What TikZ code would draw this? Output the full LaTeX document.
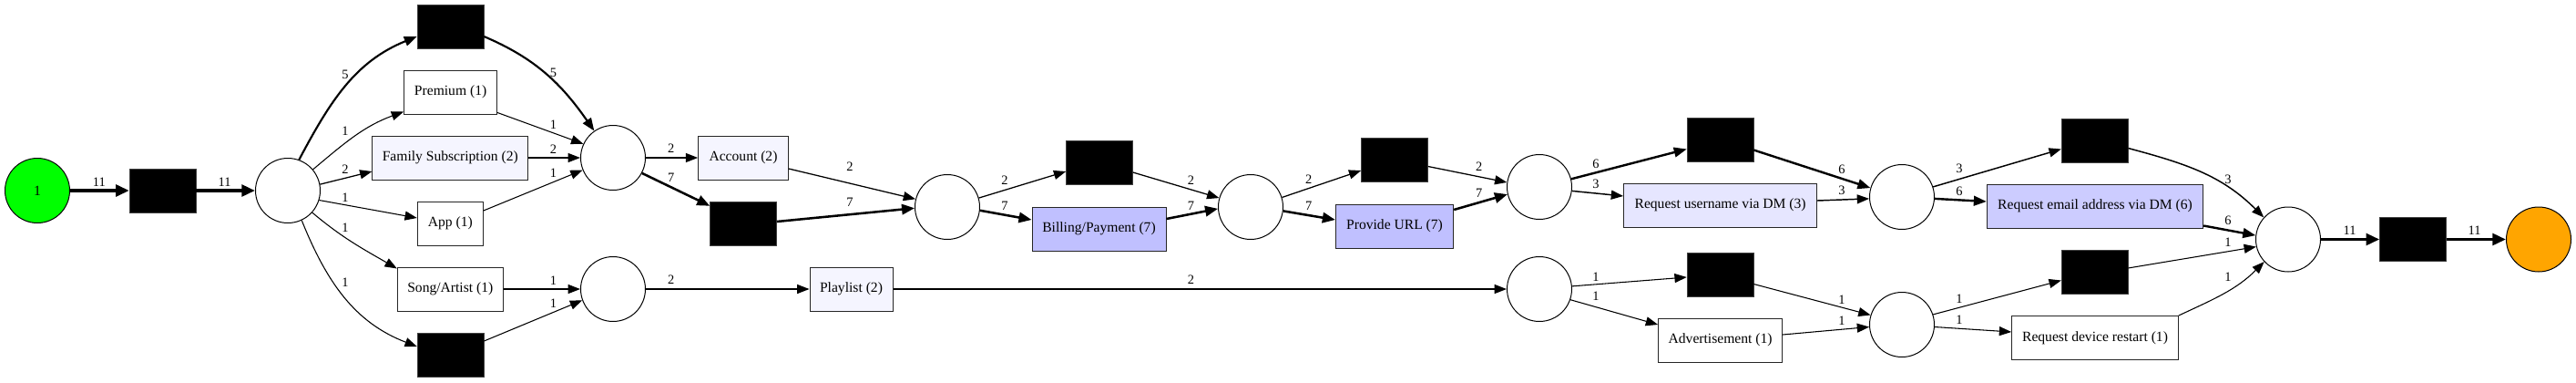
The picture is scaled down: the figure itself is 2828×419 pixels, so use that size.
\documentclass[tikz,border=0pt]{standalone}
\usepackage{fontspec}
\setmainfont{Liberation Serif}
\usetikzlibrary{arrows.meta,calc}
\definecolor{cgreen}{HTML}{00FF00}
\definecolor{corange}{HTML}{FFA500}
\definecolor{ctwo}{HTML}{F5F5FF}
\definecolor{cthree}{HTML}{E6E6FF}
\definecolor{csix}{HTML}{CCCCFF}
\definecolor{cseven}{HTML}{C0C0FF}
\begin{document}
\begin{tikzpicture}[x=0.75pt,y=-0.75pt,
  place/.style={circle,draw=black,line width=0.75pt,minimum size=53.25pt,inner sep=0pt,fill=white,font=\fontsize{11.7}{13}\selectfont},
  silent/.style={rectangle,fill=black,draw=black!75,line width=0.4pt,minimum width=54.75pt,minimum height=36pt,inner sep=0pt},
  act/.style={rectangle,draw=black!85,line width=0.75pt,minimum height=36pt,inner sep=0pt,fill=white,font=\fontsize{11.7}{13}\selectfont},
  lbl/.style={inner sep=0pt,font=\fontsize{10.8}{12}\selectfont},
  eone/.style={line width=0.8pt,-{Triangle[length=10pt,width=7.5pt]}},
  etwo/.style={line width=0.95pt,-{Triangle[length=10pt,width=7.5pt]}},
  ethree/.style={line width=1.1pt,-{Triangle[length=10pt,width=7.5pt]}},
  efive/.style={line width=1.6pt,-{Triangle[length=10.5pt,width=8pt]}},
  esix/.style={line width=1.8pt,-{Triangle[length=10.5pt,width=8pt]}},
  eseven/.style={line width=1.9pt,-{Triangle[length=10.5pt,width=8.5pt]}},
  eeleven/.style={line width=2.6pt,-{Triangle[length=11pt,width=9.5pt]}}
]
\useasboundingbox (0,0) rectangle (2828,419);

% nodes
\node[place,fill=cgreen] (start) at (41,209) {1};
\node[silent] (t0) at (178.6,209) {};
\node[place] (p1) at (316,209) {};
\node[silent] (tTop) at (494.6,29) {};
\node[act,minimum width=76.5pt] (premium) at (494.6,101) {Premium (1)};
\node[act,fill=ctwo,minimum width=128pt] (famsub) at (494.3,173) {Family Subscription (2)};
\node[act,minimum width=54pt] (app) at (494.3,245) {App (1)};
\node[act,minimum width=87pt] (song) at (494.3,317) {Song/Artist (1)};
\node[silent] (tBot) at (494.6,389) {};
\node[place] (p2) at (673,173) {};
\node[place] (p3) at (673,317) {};
\node[act,fill=ctwo,minimum width=74pt] (account) at (816,173) {Account (2)};
\node[silent] (tAcc) at (816,245) {};
\node[act,fill=ctwo,minimum width=68.25pt] (playlist) at (934.5,317) {Playlist (2)};
\node[place] (p4) at (1040,227) {};
\node[silent] (t4) at (1207,178.5) {};
\node[act,fill=cseven,minimum width=110.25pt] (billing) at (1206.5,251) {Billing/Payment (7)};
\node[place] (p5) at (1373,227) {};
\node[silent] (t5) at (1531,175.5) {};
\node[act,fill=cseven,minimum width=97pt] (url) at (1531,248) {Provide URL (7)};
\node[place] (p6) at (1690,205) {};
\node[silent] (t6) at (1888.5,153.5) {};
\node[act,fill=cthree,minimum width=159pt] (requser) at (1888.6,225) {Request username via DM (3)};
\node[place] (p7) at (2088,216) {};
\node[place] (p8) at (1690,317) {};
\node[silent] (t8) at (1888.5,301) {};
\node[act,minimum width=102pt] (adv) at (1888.6,373) {Advertisement (1)};
\node[place] (p9) at (2088,356) {};
\node[silent] (t7) at (2299.6,154.5) {};
\node[act,fill=csix,minimum width=178pt] (reqemail) at (2300,226) {Request email address via DM (6)};
\node[silent] (t9) at (2299.6,298.5) {};
\node[act,minimum width=137pt] (restart) at (2300,370.5) {Request device restart (1)};
\node[place] (p10) at (2512,262.5) {};
\node[silent] (tEnd) at (2649,262.5) {};
\node[place,fill=corange] (end) at (2787,262.5) {};

% edges
\draw[eeleven] (start.east) -- (t0.west);
\draw[eeleven] (t0.east) -- (p1.west);
\draw[efive] (p1.70) to[out=62,in=202] ($(tTop.west)+(0,11)$);
\draw[eone] (p1.40) to[out=40,in=200] ($(premium.south west)+(0,-3)$);
\draw[etwo] (p1.11) -- ($(famsub.west)+(0,15)$);
\draw[eone] (p1.-17) -- ($(app.west)+(0,-6)$);
\draw[eone] (p1.-42) to[out=-40,in=150] ($(song.north west)+(0,2)$);
\draw[eone] (p1.-65) to[out=-68,in=159] ($(tBot.west)+(0,-9)$);
\draw[efive] ($(tTop.east)+(0,11)$) to[out=-23,in=125] (p2.125);
\draw[eone] ($(premium.south east)+(0,-2)$) -- (p2.155);
\draw[etwo] (famsub.east) -- (p2.west);
\draw[eone] ($(app.east)+(0,-14)$) -- (p2.202);
\draw[eone] (song.east) -- (p3.west);
\draw[eone] ($(tBot.east)+(0,-15)$) -- (p3.200);
\draw[etwo] (p2.east) -- (account.west);
\draw[eseven] (p2.-28) -- ($(tAcc.north west)+(0,5)$);
\draw[etwo] (p3.east) -- (playlist.west);
\draw[etwo] ($(account.east)+(0,12)$) -- (p4.166);
\draw[eseven] ($(tAcc.east)+(0,-2)$) -- (p4.182);
\draw[etwo] (playlist.east) -- (p8.west);
\draw[etwo] (p4.16) -- ($(t4.west)+(0,9.5)$);
\draw[eseven] (p4.-6) -- ($(billing.west)+(0,-10)$);
\draw[etwo] ($(t4.east)+(0,10.5)$) -- (p5.164);
\draw[eseven] ($(billing.east)+(0,-11)$) -- (p5.183);
\draw[etwo] (p5.17) -- ($(t5.west)+(0,11.5)$);
\draw[eseven] (p5.-7) -- ($(url.west)+(0,-7)$);
\draw[etwo] ($(t5.east)+(0,7)$) -- (p6.172);
\draw[eseven] ($(url.east)+(0,-18)$) -- (p6.193);
\draw[esix] (p6.14) -- ($(t6.west)+(0,10)$);
\draw[ethree] (p6.-7) -- ($(requser.west)+(0,-10)$);
\draw[esix] ($(t6.east)+(0,11)$) -- (p7.164);
\draw[ethree] ($(requser.east)+(0,-5)$) -- (p7.183);
\draw[eone] (p8.5) -- ($(t8.west)+(0,3)$);
\draw[eone] (p8.-19) -- ($(adv.west)+(0,-17)$);
\draw[eone] ($(t8.east)+(0,10.5)$) -- (p9.163);
\draw[eone] ($(adv.east)+(0,-6)$) -- (p9.184);
\draw[ethree] (p7.18) -- ($(t7.west)+(0,9)$);
\draw[esix] (p7.-3) -- ($(reqemail.west)+(0,-5)$);
\draw[ethree] ($(t7.east)+(0,8)$) to[out=-15,in=135] (p10.138);
\draw[esix] ($(reqemail.south east)+(0,-3)$) -- (p10.173);
\draw[eone] ($(t9.east)+(0,-4.5)$) -- (p10.193);
\draw[eone] (restart.north east) to[out=25,in=225] (p10.223);
\draw[eone] (p9.18) -- ($(t9.west)+(0,9)$);
\draw[eone] (p9.-4) -- ($(restart.west)+(0,-6.5)$);
\draw[eeleven] (p10.east) -- (tEnd.west);
\draw[eeleven] (tEnd.east) -- (end.west);

% labels
\node[lbl] (l1) at (108.8,200) {11};
\node[lbl] (l2) at (246.6,200) {11};
\node[lbl] (l3) at (379,82) {5};
\node[lbl] (l4) at (379,144) {1};
\node[lbl] (l5) at (379,186) {2};
\node[lbl] (l6) at (379,217) {1};
\node[lbl] (l7) at (379,250) {1};
\node[lbl] (l8) at (379,310) {1};
\node[lbl] (l9) at (607.5,80) {5};
\node[lbl] (l10) at (607.5,137) {1};
\node[lbl] (l11) at (607.5,164) {2};
\node[lbl] (l12) at (607.5,190) {1};
\node[lbl] (l13) at (607.5,308) {1};
\node[lbl] (l14) at (607.5,333) {1};
\node[lbl] (l15) at (736.7,163) {2};
\node[lbl] (l16) at (736.7,195) {7};
\node[lbl] (l17) at (933,183) {2};
\node[lbl] (l18) at (933,221.7) {7};
\node[lbl] (l19) at (736.7,307) {2};
\node[lbl] (l20) at (1307.5,307) {2};
\node[lbl] (l21) at (1103,198) {2};
\node[lbl] (l22) at (1103,226) {7};
\node[lbl] (l23) at (1307.5,198) {2};
\node[lbl] (l24) at (1307.5,226) {7};
\node[lbl] (l25) at (1436.7,196.7) {2};
\node[lbl] (l26) at (1436.7,226) {7};
\node[lbl] (l27) at (1623.6,183) {2};
\node[lbl] (l28) at (1623.6,212) {7};
\node[lbl] (l29) at (1752,180) {6};
\node[lbl] (l30) at (1752,201.7) {3};
\node[lbl] (l31) at (2022,185.7) {6};
\node[lbl] (l32) at (2022,209) {3};
\node[lbl] (l33) at (1752,304) {1};
\node[lbl] (l34) at (1752,325) {1};
\node[lbl] (l35) at (2022,329) {1};
\node[lbl] (l36) at (2022,352) {1};
\node[lbl] (l37) at (2151,185) {3};
\node[lbl] (l38) at (2151,210) {6};
\node[lbl] (l39) at (2446,196.7) {3};
\node[lbl] (l40) at (2446,241.7) {6};
\node[lbl] (l41) at (2446,265.7) {1};
\node[lbl] (l42) at (2446,304) {1};
\node[lbl] (l43) at (2151,328) {1};
\node[lbl] (l44) at (2151,351) {1};
\node[lbl] (l45) at (2579.6,253) {11};
\node[lbl] (l46) at (2716.6,253) {11};
\end{tikzpicture}
\end{document}
